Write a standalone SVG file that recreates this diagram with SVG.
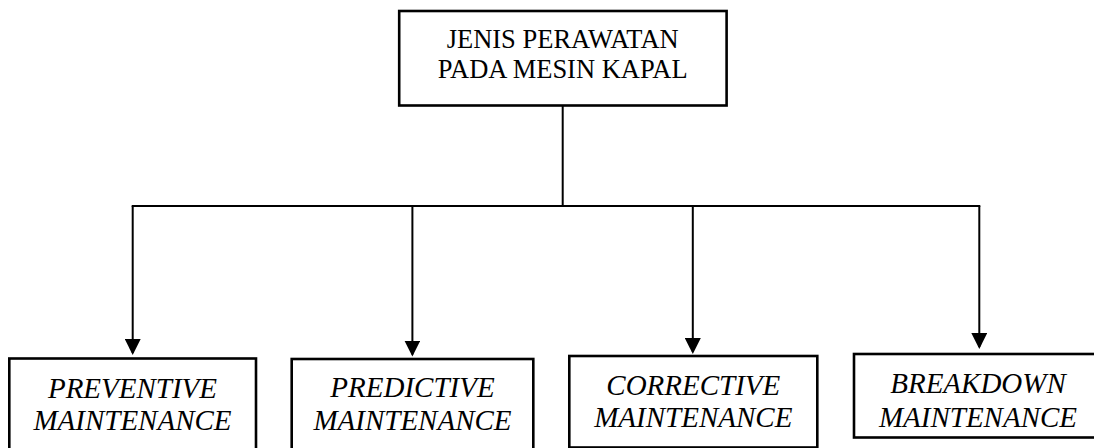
<svg xmlns="http://www.w3.org/2000/svg" width="1094" height="448" viewBox="0 0 1094 448">
  <style>
    .box { fill: #ffffff; stroke: #000000; stroke-width: 2.6; }
    .conn { fill: none; stroke: #000000; stroke-width: 2; }
    .title { font-family: "Liberation Serif", "Times New Roman", serif; font-size: 26.5px; fill: #000000; text-anchor: middle; }
    .label { font-family: "Liberation Serif", "Times New Roman", serif; font-size: 29px; font-style: italic; fill: #000000; text-anchor: middle; }
  </style>
  <defs>
    <marker id="arrow" markerUnits="userSpaceOnUse" markerWidth="16" markerHeight="16" refX="14" refY="8" orient="auto">
      <path d="M0,0 L16,8 L0,16 Z" fill="#000000"/>
    </marker>
  </defs>
  <rect width="1094" height="448" fill="#ffffff"/>

  <g id="connectors">
    <line class="conn" x1="562.7" y1="106" x2="562.7" y2="206"/>
    <line class="conn" x1="131.7" y1="206" x2="980.3" y2="206"/>
    <line class="conn" x1="132.7" y1="206" x2="132.7" y2="353" marker-end="url(#arrow)"/>
    <line class="conn" x1="412.4" y1="206" x2="412.4" y2="354.5" marker-end="url(#arrow)"/>
    <line class="conn" x1="692.8" y1="206" x2="692.8" y2="352" marker-end="url(#arrow)"/>
    <line class="conn" x1="979.3" y1="206" x2="979.3" y2="347" marker-end="url(#arrow)"/>
  </g>

  <g id="node-root">
    <rect class="box" x="399.2" y="11" width="327.4" height="94.5"/>
    <text class="title" x="562.7" y="48.3">JENIS PERAWATAN</text>
    <text class="title" x="562.7" y="78.3">PADA MESIN KAPAL</text>
  </g>

  <g id="node-preventive">
    <rect class="box" x="9.3" y="358.5" width="246.7" height="100"/>
    <text class="label" x="132.5" y="397.7">PREVENTIVE</text>
    <text class="label" x="132.5" y="430">MAINTENANCE</text>
  </g>

  <g id="node-predictive">
    <rect class="box" x="291.7" y="359" width="241.6" height="100"/>
    <text class="label" x="412.5" y="396.7">PREDICTIVE</text>
    <text class="label" x="412.5" y="430">MAINTENANCE</text>
  </g>

  <g id="node-corrective">
    <rect class="box" x="569.3" y="356" width="248" height="91.5"/>
    <text class="label" x="693.3" y="395">CORRECTIVE</text>
    <text class="label" x="693.3" y="427.3">MAINTENANCE</text>
  </g>

  <g id="node-breakdown">
    <rect class="box" x="854" y="354" width="250" height="83.5"/>
    <text class="label" x="978" y="393.3">BREAKDOWN</text>
    <text class="label" x="978" y="426.7">MAINTENANCE</text>
  </g>
</svg>
